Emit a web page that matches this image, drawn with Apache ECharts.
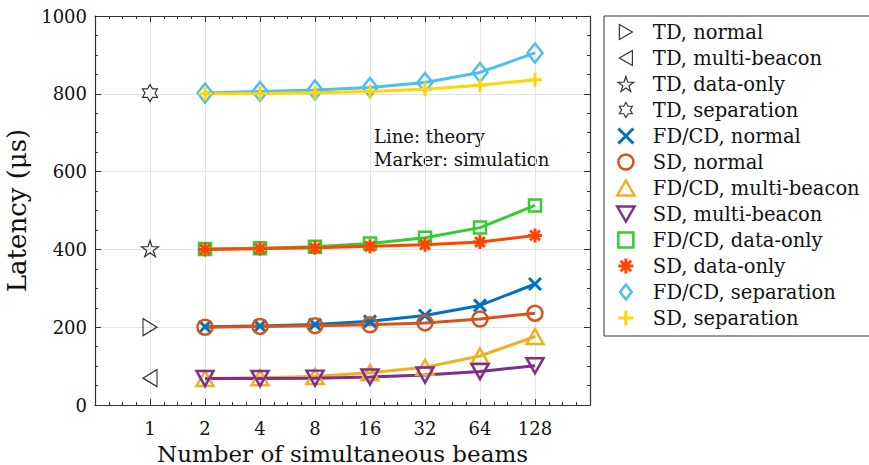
<!DOCTYPE html>
<html>
<head>
<meta charset="utf-8">
<script src="https://cdn.jsdelivr.net/npm/echarts@6/dist/echarts.min.js"></script>
<style>
html,body{margin:0;padding:0;background:#fff;}
#chart{width:869px;height:465px;}
</style>
</head>
<body>
<div id="chart"></div>
<script>
// ---- data ----
var beams = [2, 4, 8, 16, 32, 64, 128];
var tdBeams = [1];
var xTickLabels = ['1', '2', '4', '8', '16', '32', '64', '128'];
var yTicks = [0, 200, 400, 600, 800, 1000];

var tdNormal = [200];
var tdMulti = [69];
var tdData = [402];
var tdSep = [802];

var fdNormal = [201, 203, 207, 215, 230, 256, 311];
var sdNormal = [200, 202, 204, 206, 211, 221, 236];
var fdMulti  = [68, 70, 73, 83, 97, 126, 176];
var sdMulti  = [68, 68, 69, 72, 77, 86, 101];
var fdData   = [401, 403, 407, 415, 430, 456, 513];
var sdData   = [400, 402, 404, 408, 412, 419, 436];
var fdSep    = [802, 806, 810, 816, 829, 855, 905];
var sdSep    = [800, 801, 803, 806, 812, 822, 836];

var seriesNames = ['TD, normal', 'TD, multi-beacon', 'TD, data-only', 'TD, separation',
  'FD/CD, normal', 'SD, normal', 'FD/CD, multi-beacon', 'SD, multi-beacon',
  'FD/CD, data-only', 'SD, data-only', 'FD/CD, separation', 'SD, separation'];

// ---- symbols ----
var P_X = 'path://M0,0L100,100M100,0L0,100';
var P_PLUS = 'path://M0,50L100,50M50,0L50,100';
var P_AST = 'path://M0,50L100,50M50,0L50,100M15,15L85,85M85,15L15,85';
var P_CIRCLE = 'path://M50,0A50,50,0,1,1,50,100A50,50,0,1,1,50,0Z';
var P_TRI_UP = 'path://M50,0L100,87L0,87Z';
var P_TRI_DOWN = 'path://M0,0L100,0L50,87Z';
var P_TRI_RIGHT = 'path://M0,0L87,50L0,100Z';
var P_TRI_LEFT = 'path://M87,0L0,50L87,100Z';
var P_SQUARE = 'path://M0,0L100,0L100,100L0,100Z';
var P_DIAMOND = 'path://M50,0L100,65L50,130L0,65Z';
var P_STAR = 'path://M50,0L61.23,34.55L97.55,34.55L68.16,55.9L79.39,90.45L50,69.1L20.61,90.45L31.84,55.9L2.45,34.55L38.77,34.55Z';
var P_HEX = 'path://M50,0L64.43,25L93.3,25L78.87,50L93.3,75L64.43,75L50,100L35.57,75L6.7,75L21.13,50L6.7,25L35.57,25Z';

var log2 = function (n) { return Math.log(n) / Math.LN2; };
var toPts = function (xs, ys) { return xs.map(function (x, i) { return [log2(x), ys[i]]; }); };

var FONT = 'DejaVu Serif';
var AX = '#333';

var defs = [
  {name: seriesNames[0], xs: tdBeams, ys: tdNormal, color: '#000', sym: P_TRI_RIGHT, size: [14, 17], bw: 1.2, line: false},
  {name: seriesNames[1], xs: tdBeams, ys: tdMulti, color: '#000', sym: P_TRI_LEFT, size: [14, 17], bw: 1.2, line: false},
  {name: seriesNames[2], xs: tdBeams, ys: tdData, color: '#000', sym: P_STAR, size: [17, 16], bw: 1.2, line: false},
  {name: seriesNames[3], xs: tdBeams, ys: tdSep, color: '#000', sym: P_HEX, size: [15, 17], bw: 1.2, line: false},
  {name: seriesNames[4], xs: beams, ys: fdNormal, color: '#0072BD', sym: P_X, size: [12, 12], bw: 3, line: true},
  {name: seriesNames[5], xs: beams, ys: sdNormal, color: '#D95319', sym: P_CIRCLE, size: [15, 15], bw: 2.5, line: true},
  {name: seriesNames[6], xs: beams, ys: fdMulti, color: '#EDB120', sym: P_TRI_UP, size: [17, 15], bw: 2.5, line: true},
  {name: seriesNames[7], xs: beams, ys: sdMulti, color: '#7E2F8E', sym: P_TRI_DOWN, size: [17, 15], bw: 2.5, line: true},
  {name: seriesNames[8], xs: beams, ys: fdData, color: '#33CC33', sym: P_SQUARE, size: [12, 12], bw: 2.5, line: true},
  {name: seriesNames[9], xs: beams, ys: sdData, color: '#FF4500', sym: P_AST, size: [14, 14], bw: 3, line: true},
  {name: seriesNames[10], xs: beams, ys: fdSep, color: '#4DBEEE', sym: P_DIAMOND, size: [15, 19], bw: 2.5, line: true},
  {name: seriesNames[11], xs: beams, ys: sdSep, color: '#FFD700', sym: P_PLUS, size: [14, 14], bw: 3, line: true}
];

var series = defs.map(function (d) {
  return {
    name: d.name,
    type: d.line ? 'line' : 'scatter',
    xAxisIndex: 0, yAxisIndex: 0,
    data: toPts(d.xs, d.ys),
    symbol: d.sym,
    symbolSize: d.size,
    showSymbol: true,
    smooth: false,
    lineStyle: {color: d.color, width: 3},
    itemStyle: {color: 'rgba(0,0,0,0)', borderColor: d.color, borderWidth: d.bw},
    emphasis: {disabled: true},
    silent: true
  };
});

var legendData = defs.map(function (d) {
  return {
    name: d.name,
    icon: d.sym,
    itemStyle: {color: 'rgba(0,0,0,0)', borderColor: d.color, borderWidth: d.line ? Math.max(2.5, d.bw) : 1.2}
  };
});

function xAxisCfg(pos, showLabel) {
  return {
    type: 'value', position: pos, min: -1, max: 8, interval: 1,
    axisLine: {show: true, onZero: false, lineStyle: {color: AX, width: 1.2}},
    axisTick: {show: true, inside: true, length: 6, lineStyle: {color: AX, width: 1}},
    minorTick: {show: true, splitNumber: 4, length: 3, lineStyle: {color: AX, width: 1}},
    splitLine: {show: showLabel, lineStyle: {color: '#e3e3e3', width: 1}},
    axisLabel: {
      show: showLabel, margin: 14, fontFamily: FONT, fontSize: 18, color: '#111',
      formatter: function (v) {
        var i = Math.round(v);
        return (i >= 0 && i < xTickLabels.length) ? xTickLabels[i] : '';
      }
    },
    name: showLabel ? 'Number of simultaneous beams' : '',
    nameLocation: 'middle', nameGap: 37,
    nameTextStyle: {fontFamily: FONT, fontSize: 23, color: '#111'}
  };
}
function yAxisCfg(pos, showLabel) {
  return {
    type: 'value', position: pos, min: yTicks[0], max: yTicks[yTicks.length - 1], interval: 200,
    axisLine: {show: true, onZero: false, lineStyle: {color: AX, width: 1.2}},
    axisTick: {show: true, inside: true, length: 6, lineStyle: {color: AX, width: 1}},
    minorTick: {show: true, splitNumber: 4, length: 3, lineStyle: {color: AX, width: 1}},
    splitLine: {show: showLabel, lineStyle: {color: '#e3e3e3', width: 1}},
    axisLabel: {show: showLabel, margin: 8, fontFamily: FONT, fontSize: 18, color: '#111',
      formatter: function (v) { return String(v); }},
    name: showLabel ? 'Latency (μs)' : '',
    nameLocation: 'middle', nameGap: 57, nameRotate: 90,
    nameTextStyle: {fontFamily: FONT, fontSize: 26, color: '#111'}
  };
}

var chart = echarts.init(document.getElementById('chart'), null, {renderer: 'svg'});
chart.setOption({
  animation: false,
  backgroundColor: '#fff',
  grid: {left: 95, right: 279, top: 16, bottom: 60, containLabel: false, outerBoundsMode: 'none'},
  xAxis: [xAxisCfg('bottom', true), xAxisCfg('top', false)],
  yAxis: [yAxisCfg('left', true), yAxisCfg('right', false)],
  legend: {
    orient: 'vertical', left: 604, top: 16,
    padding: [6, 10, 8, 12],
    itemWidth: 44, itemHeight: 15, itemGap: 6.0,
    borderColor: '#333', borderWidth: 1, backgroundColor: '#fff',
    selectedMode: false,
    textStyle: {fontFamily: FONT, fontSize: 19.5, color: '#111', lineHeight: 16},
    data: legendData
  },
  graphic: [{
    type: 'text', left: 374, top: 125, silent: true,
    style: {text: 'Line: theory\nMarker: simulation', fontFamily: FONT, fontSize: 18, lineHeight: 23, fill: '#111'}
  }],
  series: series
});
</script>
</body>
</html>
